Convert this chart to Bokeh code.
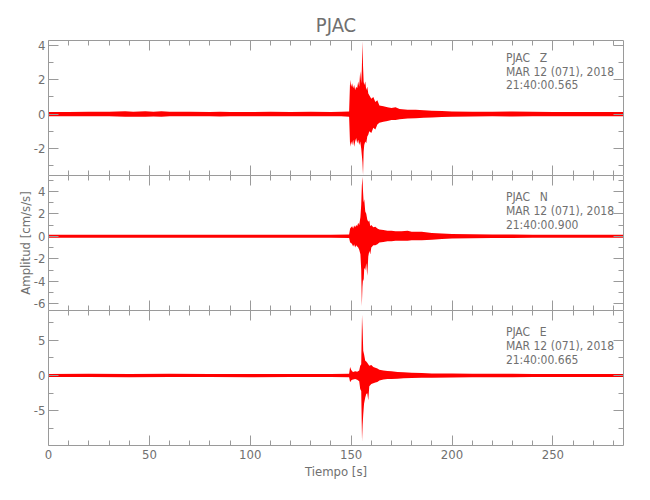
from bokeh.plotting import figure
from bokeh.layouts import column
from bokeh.models import Range1d, LinearAxis, FixedTicker, Label, CustomJSTickFormatter
from bokeh.embed import file_html
from bokeh.resources import INLINE

FONT = "'DejaVu Sans Condensed', 'Liberation Sans', sans-serif"
AX = "#9a9a9a"
TXT = "#707070"
RED = "#ff0000"

# ---------------- data (envelopes) ----------------
X_RANGE = (0, 285)
X_MAJOR = [0, 50, 100, 150, 200, 250]
X_MINOR = [10, 20, 30, 40, 60, 70, 80, 90, 110, 120, 130, 140, 160, 170, 180, 190,
           210, 220, 230, 240, 260, 270, 280]

# Z component
TZ = [0, 10, 20, 30, 38, 42, 48, 52, 56, 60, 70, 80, 85, 90, 100, 110, 120, 130, 140, 145,
      149, 149.5, 150, 150.5, 151, 151.5, 152, 152.5, 153, 153.5, 154, 154.5, 155, 155.3,
      155.6, 155.9, 156.2, 156.5, 157, 157.5, 158, 158.5, 159, 160, 161, 162, 163, 164,
      166, 168, 170, 172, 174, 178, 182, 186, 190, 195, 200, 210, 220, 230, 240, 250,
      260, 270, 285]
Z_UP = [0.12, 0.12, 0.13, 0.13, 0.16, 0.14, 0.17, 0.14, 0.16, 0.13, 0.13, 0.12, 0.14, 0.12,
        0.12, 0.13, 0.12, 0.13, 0.12, 0.13, 0.15, 2.0, 1.6, 1.8, 1.5, 1.7, 1.4, 1.6, 1.5,
        1.9, 1.6, 2.5, 1.8, 2.6, 4.25, 2.8, 1.9, 1.7, 1.9, 1.4, 1.6, 1.2, 1.1, 0.9, 1.0,
        0.7, 0.8, 0.5, 0.45, 0.4, 0.35, 0.4, 0.3, 0.25, 0.25, 0.22, 0.2, 0.18, 0.15, 0.14,
        0.13, 0.15, 0.13, 0.12, 0.12, 0.12, 0.12]
Z_LO = [-0.12, -0.12, -0.13, -0.13, -0.15, -0.16, -0.16, -0.14, -0.16, -0.13, -0.13, -0.12,
        -0.14, -0.12, -0.12, -0.12, -0.13, -0.12, -0.12, -0.13, -0.15, -1.9, -1.6, -1.8,
        -1.5, -1.9, -1.6, -1.4, -1.7, -1.5, -1.8, -1.6, -2.0, -2.4, -2.8, -3.55, -2.2,
        -1.8, -1.6, -1.7, -1.3, -1.2, -1.0, -1.1, -0.8, -0.9, -0.6, -0.5, -0.45, -0.4,
        -0.35, -0.35, -0.3, -0.25, -0.24, -0.22, -0.2, -0.17, -0.15, -0.14, -0.13, -0.14,
        -0.13, -0.12, -0.12, -0.12, -0.12]
YZ = (-3.58, 4.29)
YZ_MAJOR = [-2, 0, 2, 4]
YZ_MINOR = [-3, -1, 1, 3]

# N component
TN = [0, 20, 40, 60, 80, 100, 120, 140, 149, 149.5, 150, 150.5, 151, 151.5, 152, 152.5,
      153, 153.5, 154, 154.6, 155, 155.3, 155.6, 155.9, 156.2, 156.5, 157, 157.5, 158,
      158.5, 159, 159.5, 160, 161, 162, 163, 164, 166, 168, 170, 172, 175, 178, 180, 185,
      190, 195, 200, 210, 220, 230, 240, 250, 260, 270, 285]
N_UP = [0.13, 0.14, 0.13, 0.14, 0.13, 0.13, 0.14, 0.13, 0.15, 0.7, 0.8, 0.9, 0.7, 0.95,
        0.8, 1.0, 0.9, 1.2, 1.0, 1.7, 2.8, 4.5, 5.3, 4.0, 3.0, 3.3, 2.2, 2.0, 1.5, 1.3,
        1.4, 0.9, 1.0, 0.8, 0.85, 0.7, 0.6, 0.55, 0.5, 0.5, 0.45, 0.45, 0.5, 0.4, 0.4,
        0.3, 0.25, 0.2, 0.17, 0.15, 0.15, 0.14, 0.14, 0.13, 0.13, 0.13]
N_LO = [-0.13, -0.13, -0.14, -0.13, -0.13, -0.14, -0.13, -0.13, -0.15, -0.55, -0.6, -0.7,
        -0.9, -0.7, -1.0, -0.8, -0.9, -1.0, -1.2, -1.6, -3.0, -6.2, -4.5, -3.8, -4.0,
        -2.8, -3.0, -2.4, -3.5, -1.8, -1.3, -1.6, -1.0, -0.8, -0.8, -0.7, -0.55, -0.5,
        -0.45, -0.45, -0.4, -0.4, -0.4, -0.35, -0.35, -0.3, -0.25, -0.2, -0.17, -0.15,
        -0.15, -0.14, -0.14, -0.13, -0.13, -0.13]
YN = (-6.6, 5.4)
YN_MAJOR = [-6, -4, -2, 0, 2, 4]
YN_MINOR = [-5, -3, -1, 1, 3, 5]

# E component
TE = [0, 20, 40, 60, 80, 100, 120, 140, 149, 149.5, 150, 150.5, 151, 152, 153, 154, 154.5,
      155, 155.4, 155.7, 156, 156.4, 157, 157.5, 158, 158.5, 159, 160, 161, 162, 163, 164,
      166, 168, 170, 173, 176, 180, 185, 190, 200, 210, 220, 230, 240, 250, 260, 270, 285]
E_UP = [0.22, 0.25, 0.22, 0.25, 0.22, 0.22, 0.2, 0.22, 0.25, 1.2, 0.8, 0.6, 0.5, 0.6, 0.55,
        0.7, 1.4, 1.6, 8.6, 6.5, 3.5, 3.0, 2.1, 2.0, 1.8, 1.6, 1.4, 1.5, 1.2, 1.1, 1.0,
        0.8, 0.7, 0.65, 0.6, 0.5, 0.45, 0.4, 0.35, 0.3, 0.28, 0.26, 0.25, 0.24, 0.22,
        0.22, 0.22, 0.22, 0.22]
E_LO = [-0.22, -0.22, -0.25, -0.22, -0.22, -0.25, -0.22, -0.22, -0.25, -0.95, -0.7, -0.6,
        -0.55, -0.5, -0.6, -0.8, -1.9, -2.2, -9.3, -7.0, -5.5, -4.0, -3.1, -2.6, -2.5,
        -3.5, -1.5, -1.2, -1.1, -1.0, -0.9, -0.7, -0.55, -0.5, -0.5, -0.45, -0.4, -0.35,
        -0.3, -0.3, -0.28, -0.26, -0.25, -0.24, -0.22, -0.22, -0.22, -0.22, -0.22]
YE = (-9.9, 9.2)
YE_MAJOR = [-5, 0, 5]
YE_MINOR = [-7.5, -2.5, 2.5, 7.5]

STATION = "PJAC"
COMPONENTS = ["Z", "N", "E"]
DATE_TXT = "MAR 12 (071), 2018"
TIMES_TXT = ["21:40:00.565", "21:40:00.900", "21:40:00.665"]

FRAME_W, FRAME_H = 575, 135
LEFT_B, RIGHT_B = 48, 26


def style(ax, major_len=10, minor_len=5):
    ax.axis_line_color = AX
    ax.major_tick_line_color = AX
    ax.minor_tick_line_color = AX
    ax.major_tick_in = major_len
    ax.major_tick_out = 0
    ax.minor_tick_in = minor_len
    ax.minor_tick_out = 0
    ax.major_label_text_font = FONT
    ax.major_label_text_font_size = "13px"
    ax.major_label_text_color = TXT
    ax.axis_label_text_font = FONT
    ax.axis_label_text_font_size = "13px"
    ax.axis_label_text_font_style = "normal"
    ax.axis_label_text_color = TXT


def plain_side(p, side, majors, minors):
    # ticks only, no labels: two label-less axes (short and long ticks)
    a1 = LinearAxis(ticker=FixedTicker(ticks=[], minor_ticks=minors))
    style(a1, 10, 5)
    a1.major_label_standoff = 0
    a2 = LinearAxis(ticker=FixedTicker(ticks=[], minor_ticks=majors))
    style(a2, 10, 10)
    a2.major_label_standoff = 0
    a2.axis_line_color = None
    p.add_layout(a1, side)
    p.add_layout(a2, side)


def panel(t, up, lo, yr, ymaj, ymin, comp, ttxt, label_ys, top_b, bot_b,
          bottom_labels=False, ylabel=None, title=None):
    p = figure(frame_width=FRAME_W, frame_height=FRAME_H, output_backend="svg",
               toolbar_location=None, x_range=Range1d(*X_RANGE), y_range=Range1d(*yr),
               x_axis_location=None, y_axis_location=None, min_border=0,
               min_border_left=LEFT_B, min_border_right=RIGHT_B,
               min_border_top=top_b, min_border_bottom=bot_b,
               outline_line_color=None, background_fill_color="white",
               border_fill_color="white")
    p.grid.visible = False
    if title:
        p.title.text = title
        p.title.align = "center"
        p.title.text_font = FONT
        p.title.text_font_size = "20px"
        p.title.text_font_style = "normal"
        p.title.text_color = TXT
        p.title.standoff = 8
    p.varea(x=t, y1=lo, y2=up, fill_color=RED, fill_alpha=1.0)

    # left axis with labels
    la = LinearAxis(ticker=FixedTicker(ticks=ymaj, minor_ticks=ymin),
                    formatter=CustomJSTickFormatter(code="return String(tick)"))
    style(la)
    la.major_label_standoff = 3
    if ylabel:
        la.axis_label = ylabel
        la.axis_label_standoff = -2
    p.add_layout(la, "left")
    plain_side(p, "right", ymaj, ymin)
    plain_side(p, "above", X_MAJOR, X_MINOR)
    if bottom_labels:
        ba = LinearAxis(ticker=FixedTicker(ticks=X_MAJOR, minor_ticks=X_MINOR),
                        axis_label="Tiempo [s]")
        style(ba)
        ba.major_label_standoff = 4
        ba.axis_label_standoff = 2
        p.add_layout(ba, "below")
    else:
        plain_side(p, "below", X_MAJOR, X_MINOR)

    x_txt = 226.7
    fs = "12px"
    p.add_layout(Label(x=x_txt, y=label_ys[0], text=STATION, text_font=FONT,
                       text_font_size=fs, text_color=TXT, text_baseline="middle"))
    p.add_layout(Label(x=243.5, y=label_ys[0], text=comp, text_font=FONT,
                       text_font_size=fs, text_color=TXT, text_baseline="middle"))
    p.add_layout(Label(x=x_txt, y=label_ys[1], text=DATE_TXT, text_font=FONT,
                       text_font_size=fs, text_color=TXT, text_baseline="middle"))
    p.add_layout(Label(x=x_txt, y=label_ys[2], text=ttxt, text_font=FONT,
                       text_font_size=fs, text_color=TXT, text_baseline="middle"))
    return p


p1 = panel(TZ, Z_UP, Z_LO, YZ, YZ_MAJOR, YZ_MINOR, COMPONENTS[0], TIMES_TXT[0],
           (3.27, 2.465, 1.68), 40, 0, title=STATION)
p2 = panel(TN, N_UP, N_LO, YN, YN_MAJOR, YN_MINOR, COMPONENTS[1], TIMES_TXT[1],
           (3.47, 2.26, 1.02), 0, 0, ylabel="Amplitud [cm/s/s]")
p3 = panel(TE, E_UP, E_LO, YE, YE_MAJOR, YE_MINOR, COMPONENTS[2], TIMES_TXT[2],
           (6.13, 4.21, 2.22), 0, 54, bottom_labels=True)

layout = column(p1, p2, p3, spacing=0)
open("out.html", "w").write(file_html(layout, INLINE))
